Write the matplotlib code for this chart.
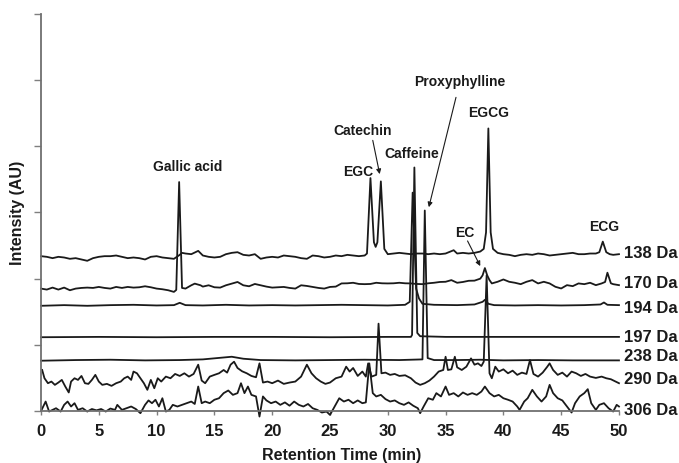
import matplotlib
matplotlib.use("Agg")
import matplotlib.pyplot as plt

# ===== chromatogram traces: (retention time in min, intensity)
# ===== intensity in arbitrary units, one y tick = 100
trace_138 = [(0, 234), (0.5, 233), (1, 231), (1.5, 233), (2, 232), (2.5, 230), (3, 231),
             (3.5, 229), (4, 227), (4.5, 231), (5, 233), (5.5, 234), (6, 234), (6.5, 235),
             (7, 233), (7.5, 231), (8, 232), (8.5, 231), (9, 229), (9.5, 233), (10, 234),
             (10.5, 232), (11, 231), (11.5, 230), (12, 236), (12.2, 239), (12.5, 238),
             (13, 237), (13.6, 242), (14, 235), (14.5, 233), (15, 232), (15.5, 233),
             (16, 237), (16.5, 239), (17, 240), (17.5, 236), (18, 235), (18.5, 237),
             (19, 230), (19.5, 232), (20, 233), (20.5, 232), (21, 235), (21.5, 234),
             (22, 233), (22.5, 231), (23, 230), (23.5, 235), (24, 234), (24.5, 232),
             (25, 233), (25.5, 235), (26, 234), (26.5, 236), (27, 235), (27.5, 234),
             (28, 235), (28.2, 238), (28.5, 352), (28.8, 255), (28.95, 248), (29.1, 255),
             (29.4, 347), (29.7, 245), (30, 237), (30.5, 238), (31, 239), (31.5, 238),
             (32, 237), (32.5, 238), (33, 238), (33.5, 237), (34, 238), (34.5, 237),
             (35, 238), (35.7, 243), (36, 238), (36.5, 239), (37, 238), (37.5, 239),
             (38, 241), (38.3, 245), (38.5, 270), (38.7, 427), (38.9, 270), (39.1, 245),
             (39.5, 239), (40, 237), (40.5, 236), (41, 234), (41.5, 236), (42, 237),
             (42.5, 236), (43, 238), (43.5, 237), (44, 235), (44.5, 236), (45, 237),
             (45.5, 238), (46, 239), (46.5, 237), (47, 237), (47.5, 238), (48, 238),
             (48.3, 240), (48.6, 256), (48.9, 240), (49.2, 237), (49.5, 236), (50, 237)]

trace_170 = [(0, 185), (0.5, 183.5), (1, 186.5), (1.5, 183.5), (2, 186.5), (2.5, 182.5),
             (3, 185), (3.5, 186), (4, 186.5), (4.5, 186), (5, 187.5), (5.5, 186), (6, 185),
             (6.5, 187.5), (7, 186), (7.5, 187.5), (8, 186.5), (8.5, 187), (9, 188.5),
             (9.5, 187), (10, 185), (10.5, 184), (11, 182.5), (11.5, 180), (11.7, 183),
             (11.95, 346), (12.2, 186), (12.5, 185), (13, 190), (13.3, 192.5), (13.8, 190),
             (14, 188), (14.5, 190), (15, 187), (15.5, 186.5), (16, 190), (16.5, 192.5),
             (17, 195), (17.5, 190), (18, 188.5), (18.5, 192), (19, 190), (19.5, 188),
             (20, 186.5), (20.5, 187), (21, 187.5), (21.5, 186), (22, 185), (22.5, 190),
             (23, 189), (23.5, 187.5), (24, 186), (24.5, 185), (25, 187.5), (25.5, 188),
             (26, 192.8), (26.5, 193), (27, 193.8), (27.5, 192), (28, 191.7), (28.5, 192),
             (29, 193.8), (29.5, 193), (30, 192.8), (30.5, 193), (31, 193.8), (31.5, 193),
             (32, 192.8), (32.5, 192), (33, 191.7), (33.5, 193), (34, 193.8), (34.5, 195),
             (35, 195.3), (35.5, 197.8), (36, 193.8), (36.5, 195), (37, 196.8), (37.5, 197),
             (38, 200), (38.2, 205), (38.4, 216), (38.6, 205), (38.8, 197.8), (39, 192.8),
             (39.5, 195.3), (40, 198.8), (40.5, 195.3), (41, 193.8), (41.5, 191.7),
             (42, 195.3), (42.5, 197.8), (43, 192.8), (43.5, 195.3), (44, 192.8),
             (44.5, 187.7), (45, 185.2), (45.5, 190.2), (46, 188.7), (46.5, 192.8),
             (47, 191.7), (47.5, 193.8), (48, 190.2), (48.5, 192.8), (48.8, 195), (49, 209),
             (49.3, 193), (49.5, 191.7), (50, 190.2)]

trace_194 = [(0, 159), (2, 160), (4, 159), (6, 160), (8, 160.5), (10, 159.5), (11.5, 160),
             (12, 163.5), (12.5, 160), (14, 159.5), (16, 160.5), (18, 159.5), (20, 160),
             (22, 159.5), (24, 160), (26, 160.5), (28, 160), (30, 159.5), (31.5, 160.5),
             (31.9, 165), (32.15, 330), (32.45, 185), (32.7, 170), (33, 162), (34, 160.5),
             (36, 160), (37.5, 161), (38.2, 165), (38.4, 168), (38.7, 162), (39.2, 160),
             (41, 159.5), (43, 160), (45, 159.5), (47, 160), (48.4, 161), (48.7, 164),
             (49, 160.5), (50, 160)]

trace_197 = [(0, 111.5), (5, 112), (10, 111.5), (15, 112), (20, 112), (25, 111.5),
             (30, 112), (32, 112), (32.1, 115), (32.3, 368), (32.55, 118), (32.8, 113),
             (35, 112), (40, 112), (45, 112), (50, 112)]

trace_238 = [(0, 76), (3, 77), (6, 77.5), (9, 76.5), (12, 77), (14, 78), (16.5, 82),
             (17.5, 79), (19, 77), (22, 76.5), (25, 77), (28, 77.5), (31, 77), (33, 78),
             (33.2, 303), (33.45, 80), (34, 77), (36, 77), (38, 77.5), (40, 76.5),
             (43, 77), (46, 76.5), (50, 76.5)]

trace_290 = [(0.1, 62), (0.3, 49.5), (0.6, 42), (0.9, 44.5), (1.2, 39.5), (1.5, 43), (1.8, 47),
             (2.1, 37), (2.4, 28), (2.6, 44.5), (2.9, 49.5), (3.2, 47), (3.5, 53), (3.8, 42),
             (4.1, 41), (4.4, 47), (4.7, 54.6), (5.0, 44.5), (5.3, 39.5), (5.7, 41), (6.1, 38),
             (6.5, 42), (6.9, 44.5), (7.2, 49.5), (7.5, 52), (7.8, 47), (8.0, 59.6), (8.3, 57),
             (8.6, 49.5), (8.9, 42), (9.2, 32), (9.5, 47), (9.8, 34.4), (10.1, 49.5),
             (10.4, 44.5), (10.8, 52), (11.2, 49.5), (11.6, 56), (12.0, 53), (12.4, 57),
             (12.8, 52), (13.2, 56), (13.6, 70), (13.9, 46), (14.2, 42), (14.6, 52),
             (15.0, 54.6), (15.4, 57), (15.8, 62), (16.1, 58), (16.4, 70), (16.7, 74.5),
             (17.0, 65), (17.4, 60), (17.8, 57), (18.2, 53), (18.6, 51), (18.9, 72), (19.2, 43),
             (19.6, 44.5), (20.0, 42), (20.5, 46), (21.0, 41), (21.5, 43), (22.0, 44.5),
             (22.5, 52), (23.0, 70), (23.4, 57), (23.8, 49.5), (24.2, 44.5), (24.6, 41),
             (25.0, 43), (25.5, 49.5), (26.0, 52), (26.4, 67), (26.7, 59.6), (27.0, 65),
             (27.4, 53), (27.8, 59.6), (28.1, 52), (28.3, 72), (28.6, 52), (29.0, 54.6),
             (29.2, 132), (29.45, 57), (29.8, 58), (30.2, 54.6), (30.6, 56), (31.0, 53),
             (31.5, 54), (32.0, 49.5), (32.4, 43), (32.8, 39.5), (33.2, 42), (33.6, 46),
             (34.0, 52), (34.4, 59.6), (34.8, 62), (35.0, 82), (35.2, 62), (35.5, 63),
             (35.8, 82), (36.0, 66), (36.4, 62), (36.8, 67), (37.2, 79.5), (37.5, 70),
             (37.8, 72), (38.1, 68), (38.3, 74.5), (38.55, 205), (38.8, 57), (39.0, 49.5),
             (39.3, 67), (39.6, 59.6), (40.0, 63), (40.4, 57), (40.8, 61), (41.2, 54.6),
             (41.6, 58), (42.0, 56), (42.3, 77), (42.6, 56), (43.0, 52), (43.4, 58),
             (43.8, 67), (44.0, 72), (44.3, 62), (44.7, 54.6), (45.1, 58), (45.5, 52),
             (45.9, 59.6), (46.3, 57), (46.7, 53), (47.1, 56), (47.5, 52), (48.0, 50),
             (48.5, 52), (48.9, 49.5), (49.3, 48), (49.7, 44.5), (50.0, 42)]

trace_306 = [(0.05, 1.7), (0.4, 14.3), (0.7, -0.8), (1.0, 1.7), (1.3, 4.2), (1.7, -0.8),
             (2.0, 9.3), (2.3, 14.3), (2.6, 6.8), (2.9, 11.8), (3.2, 1.7), (3.6, 4.2),
             (4.0, -0.8), (4.4, 3), (4.8, 1), (5.2, 3), (5.6, -0.8), (6.0, 3.7), (6.4, 1.7),
             (6.6, 9.3), (7.0, 1.7), (7.4, 4.2), (7.8, 6.8), (8.2, 3), (8.6, -3.3), (9.0, 9.3),
             (9.3, 16), (9.6, 11.8), (9.9, 17), (10.2, 6.8), (10.5, 19.3), (10.8, -0.8),
             (11.1, 1.7), (11.4, 9.3), (11.8, 6.8), (12.2, 9.3), (12.6, 11.8), (13.0, 14.3),
             (13.3, 10.6), (13.6, 37), (13.9, 11.8), (14.2, 14.3), (14.6, 11.8), (15.0, 17),
             (15.4, 19.3), (15.8, 27), (16.2, 31), (16.6, 24.4), (17.0, 27), (17.3, 42),
             (17.6, 27), (17.9, 37), (18.2, 24.4), (18.6, 22), (18.9, -8.4), (19.2, 22),
             (19.5, 16), (19.9, 11.8), (20.3, 14.3), (20.7, 9.3), (21.1, 13), (21.5, 8),
             (21.9, 14.3), (22.3, 9.3), (22.7, 6.8), (23.1, 10.6), (23.5, 4.2), (23.9, 1.7),
             (24.3, -2.3), (24.7, -0.8), (25.0, -5.9), (25.4, 6.8), (25.8, 19.3),
             (26.2, 14.3), (26.6, 17), (27.0, 11.8), (27.4, 16), (27.8, 11.8), (28.1, 13),
             (28.4, 72), (28.7, 27), (29.0, 22), (29.4, 24.4), (29.8, 18), (30.2, 14.3),
             (30.6, 16), (31.0, 11.8), (31.4, 9.3), (31.8, 13), (32.2, 8), (32.6, 4.2),
             (32.8, -3.3), (33.1, 6.8), (33.5, 19.3), (33.9, 17), (34.2, 27), (34.6, 22),
             (35.0, 37), (35.3, 24.4), (35.7, 27), (36.1, 22), (36.5, 28), (36.9, 24.4),
             (37.3, 27), (37.7, 24.4), (38.1, 29.4), (38.4, 37), (38.8, 27), (39.2, 22),
             (39.6, 24.4), (40.0, 19.3), (40.4, 17), (40.8, 14.3), (41.2, 6.8), (41.4, 1.7),
             (41.8, 14.3), (42.1, 19.3), (42.5, 32), (42.9, 22), (43.3, 14.3), (43.7, 22),
             (44.0, 39.5), (44.3, 27), (44.7, 19.3), (45.1, 16), (45.5, 6.8), (45.9, -2.3),
             (46.2, 11.8), (46.6, 22), (47.0, 27), (47.3, 33), (47.6, 11.8), (48.0, 1.7),
             (48.3, 9.3), (48.7, 11.8), (49.1, 4.2), (49.5, -0.8), (49.8, 9.3), (50.0, 6.8)]

traces = [trace_138, trace_170, trace_194, trace_197, trace_238, trace_290, trace_306]
trace_names = ['138 Da', '170 Da', '194 Da', '197 Da', '238 Da', '290 Da', '306 Da']
# altura do rotulo de cada traço (mesmas unidades de intensidade)
name_levels = [238.6, 193, 155, 111, 83, 47, 1.5]

xticks = list(range(0, 51, 5))
yticks = list(range(0, 601, 100))

fonte = 'Liberation Sans'
cor = '#1a1a1a'

fig = plt.figure(figsize=(6.79, 4.63), dpi=100)
ax = fig.add_axes([0.0604, 0.1123, 0.8512, 0.8575])

for tr in traces:
    xs = [p[0] for p in tr]
    ys = [p[1] for p in tr]
    ax.plot(xs, ys, color=cor, lw=1.3, clip_on=False)

for nome, nivel in zip(trace_names, name_levels):
    ax.text(50.45, nivel, nome, fontsize=12, fontweight='bold', family=fonte,
            ha='left', va='center', color=cor, clip_on=False)

# ===== rotulos dos compostos
txt = dict(fontsize=10, fontweight='bold', family=fonte, color=cor, ha='center', va='center')
ax.text(12.7, 368, 'Gallic acid', **txt)
ax.text(27.4, 361, 'EGC', **txt)
ax.text(27.85, 423, 'Catechin', **txt)
ax.text(32.1, 388, 'Caffeine', **txt)
ax.text(36.2, 497, 'Proxyphylline', **txt)
ax.text(38.75, 451, 'EGCG', **txt)
ax.text(36.7, 269, 'EC', **txt)
ax.text(48.7, 278, 'ECG', **txt)

seta = dict(arrowstyle='-|>', lw=0.8, color=cor, mutation_scale=7, shrinkA=0, shrinkB=0)
ax.annotate('', xy=(29.3, 358), xytext=(28.7, 409), arrowprops=seta)
ax.annotate('', xy=(33.55, 308), xytext=(35.9, 474), arrowprops=seta)
ax.annotate('', xy=(38.0, 219), xytext=(36.9, 257), arrowprops=seta)

ax.set_xlim(0, 50)
ax.set_ylim(0, 600)
ax.set_xticks(xticks)
ax.set_yticks(yticks)
ax.set_yticklabels([])
ax.tick_params(axis='x', direction='out', length=3, width=1, color='#7f7f7f', pad=6)
ax.tick_params(axis='y', direction='out', length=5, width=1, color='#7f7f7f')
for lab in ax.get_xticklabels():
    lab.set_fontweight('bold')
    lab.set_fontsize(12)
    lab.set_family(fonte)
    lab.set_color(cor)

for lado in ['top', 'right']:
    ax.spines[lado].set_visible(False)
for lado in ['left', 'bottom']:
    ax.spines[lado].set_color('#707070')
    ax.spines[lado].set_linewidth(1.3)

ax.set_xlabel('Retention Time (min)', fontsize=11.5, fontweight='bold', family=fonte, color=cor)
ax.set_ylabel('Intensity (AU)', fontsize=11.5, fontweight='bold', family=fonte, color=cor)
ax.xaxis.label.set_va('center')
ax.yaxis.label.set_va('center')
ax.xaxis.set_label_coords(0.52, -0.111)
ax.yaxis.set_label_coords(-0.0415, 0.5)

fig.savefig('out.png', dpi=100, facecolor='w')
